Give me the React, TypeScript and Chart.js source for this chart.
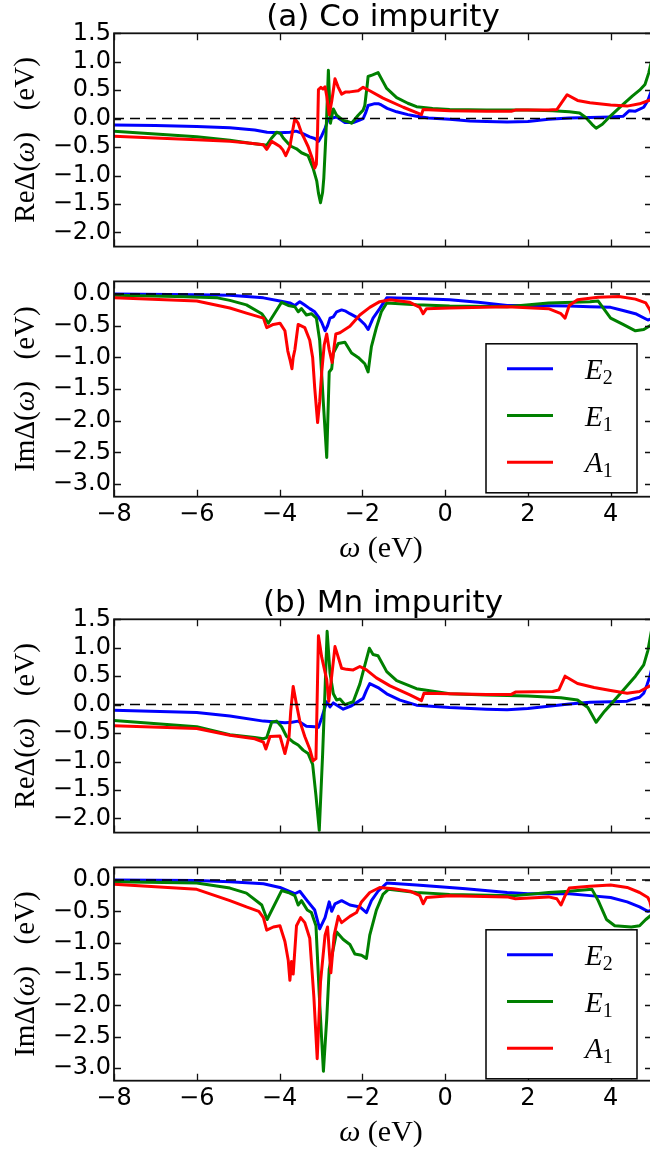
import React, { useEffect, useRef } from 'react';
import { Chart, registerables } from 'chart.js';

Chart.register(...registerables);

// ---------- axes ----------
const X_RANGE = [-8, 5];
const X_TICKS = [-8, -6, -4, -2, 0, 2, 4];
const RE_RANGE = [-2.25, 1.5];
const RE_TICKS = [-2.0, -1.5, -1.0, -0.5, 0.0, 0.5, 1.0, 1.5];
const IM_RANGE = [-3.2, 0.2];
const IM_TICKS = [-3.0, -2.5, -2.0, -1.5, -1.0, -0.5, 0.0];
const ZERO_LEVEL = 0;

const SERIES_LABELS = ['E₂', 'E₁', 'A₁'];
const SERIES_COLORS = ['#0000ff', '#008000', '#ff0000'];

// ---------- (a) Co impurity, Re ----------
const coReE2X = [-8, -7, -6, -5.2, -4.6, -4.3, -4.0, -3.75, -3.6, -3.45, -3.27, -3.15, -3.06, -2.98, -2.9, -2.82, -2.72, -2.62, -2.5, -2.42, -2.22, -2.05, -1.98, -1.92, -1.86, -1.72, -1.6, -1.54, -1.4, -1.17, -0.9, -0.69, -0.4, 0.11, 0.6, 1.0, 1.5, 2.0, 2.5, 3.0, 3.5, 4.0, 4.3, 4.45, 4.6, 4.8, 4.9, 5.0];
const coReE2Y = [-0.11, -0.12, -0.14, -0.16, -0.2, -0.24, -0.25, -0.24, -0.22, -0.26, -0.32, -0.35, -0.4, -0.3, -0.17, 0.0, 0.01, 0.03, -0.03, -0.07, -0.07, -0.02, 0.0, 0.1, 0.23, 0.26, 0.26, 0.24, 0.18, 0.12, 0.07, 0.04, 0.01, -0.01, -0.04, -0.05, -0.06, -0.05, -0.01, 0.01, 0.02, 0.03, 0.04, 0.14, 0.13, 0.2, 0.32, 0.52];

const coReE1X = [-8, -7, -6, -5.2, -4.75, -4.5, -4.31, -4.2, -4.07, -3.98, -3.91, -3.8, -3.71, -3.59, -3.47, -3.31, -3.19, -3.1, -3.06, -3.01, -2.96, -2.93, -2.88, -2.86, -2.82, -2.79, -2.77, -2.7, -2.62, -2.46, -2.32, -2.26, -2.1, -1.98, -1.94, -1.88, -1.86, -1.75, -1.62, -1.5, -1.41, -1.17, -0.9, -0.69, -0.3, 0.11, 1.0, 2.0, 2.6, 3.0, 3.25, 3.4, 3.55, 3.65, 3.8, 4.0, 4.3, 4.53, 4.7, 4.83, 4.92, 5.0];
const coReE1Y = [-0.22, -0.27, -0.32, -0.38, -0.43, -0.45, -0.47, -0.35, -0.24, -0.26, -0.34, -0.43, -0.49, -0.53, -0.6, -0.65, -0.87, -1.1, -1.31, -1.48, -1.3, -1.04, -0.3, 0.06, 0.85, 0.3, -0.08, 0.17, 0.06, -0.03, -0.06, -0.08, 0.06, 0.15, 0.23, 0.6, 0.74, 0.77, 0.81, 0.65, 0.53, 0.37, 0.27, 0.21, 0.18, 0.16, 0.15, 0.15, 0.14, 0.12, 0.1, 0.02, -0.1, -0.17, -0.1, 0.05, 0.25, 0.4, 0.5, 0.6, 0.8, 1.05];

const coReA1X = [-8, -7, -6, -5.2, -4.75, -4.39, -4.31, -4.19, -4.1, -3.99, -3.92, -3.85, -3.75, -3.68, -3.63, -3.55, -3.47, -3.4, -3.31, -3.2, -3.15, -3.11, -3.08, -3.06, -3.0, -2.95, -2.9, -2.86, -2.8, -2.74, -2.7, -2.66, -2.58, -2.5, -2.4, -2.3, -2.1, -1.98, -1.82, -1.5, -1.01, -0.57, -0.53, 0.11, 1.0, 1.6, 1.7, 2.5, 2.7, 2.95, 3.2, 3.5, 4.0, 4.4, 4.7, 5.0];
const coReA1Y = [-0.31, -0.34, -0.37, -0.4, -0.43, -0.46, -0.54, -0.4, -0.44, -0.49, -0.55, -0.65, -0.49, -0.2, 0.0, -0.08, -0.25, -0.35, -0.49, -0.72, -0.87, -0.8, -0.2, 0.51, 0.55, 0.52, 0.56, 0.4, 0.07, 0.3, 0.5, 0.7, 0.55, 0.43, 0.47, 0.47, 0.49, 0.55, 0.49, 0.36, 0.2, 0.07, 0.16, 0.14, 0.13, 0.13, 0.15, 0.15, 0.16, 0.42, 0.32, 0.28, 0.24, 0.22, 0.26, 0.34];

// ---------- (a) Co impurity, Im ----------
const coImE2X = [-8, -6, -5.2, -4.39, -3.99, -3.75, -3.63, -3.51, -3.4, -3.27, -3.15, -3.06, -2.98, -2.9, -2.84, -2.78, -2.7, -2.62, -2.5, -2.4, -2.3, -2.1, -1.94, -1.86, -1.74, -1.58, -1.41, -0.69, 0.11, 0.8, 1.5, 2.0, 3.0, 3.5, 4.0, 4.3, 4.6, 4.9, 5.0];
const coImE2Y = [0.0, -0.01, -0.02, -0.06, -0.11, -0.14, -0.18, -0.12, -0.17, -0.23, -0.28, -0.36, -0.45, -0.58, -0.5, -0.38, -0.36, -0.28, -0.25, -0.27, -0.31, -0.38, -0.48, -0.56, -0.38, -0.23, -0.06, -0.07, -0.09, -0.13, -0.18, -0.18, -0.19, -0.2, -0.21, -0.26, -0.31, -0.41, -0.39];

const coImE1X = [-8, -6.5, -5.5, -5.2, -4.8, -4.43, -4.27, -3.95, -3.79, -3.63, -3.55, -3.47, -3.35, -3.23, -3.11, -3.03, -2.94, -2.86, -2.8, -2.74, -2.7, -2.58, -2.42, -2.26, -2.1, -1.94, -1.86, -1.78, -1.66, -1.54, -1.41, -0.69, 0.11, 1.5, 2.5, 3.5, 3.7, 4.0, 4.3, 4.6, 4.8, 5.0];
const coImE1Y = [-0.02, -0.04, -0.06, -0.1, -0.17, -0.31, -0.46, -0.13, -0.18, -0.2, -0.28, -0.23, -0.33, -0.31, -0.38, -0.73, -1.73, -2.58, -1.23, -1.18, -0.93, -0.78, -0.76, -0.93, -1.0, -1.1, -1.23, -0.83, -0.53, -0.28, -0.14, -0.17, -0.19, -0.2, -0.14, -0.12, -0.11, -0.38, -0.48, -0.58, -0.56, -0.48];

const coImA1X = [-8, -6, -5.2, -4.8, -4.39, -4.31, -4.15, -3.99, -3.87, -3.8, -3.75, -3.7, -3.67, -3.63, -3.55, -3.39, -3.27, -3.2, -3.15, -3.08, -3.03, -2.98, -2.92, -2.86, -2.8, -2.73, -2.64, -2.54, -2.3, -2.06, -1.82, -1.58, -1.33, -0.85, -0.61, -0.53, -0.45, 0.11, 1.5, 2.5, 2.8, 2.9, 3.0, 3.2, 3.7, 4.2, 4.6, 4.85, 4.95, 5.0];
const coImA1Y = [-0.06, -0.11, -0.22, -0.3, -0.38, -0.53, -0.48, -0.46, -0.58, -0.9, -1.03, -1.18, -1.0, -0.88, -0.48, -0.53, -0.73, -1.0, -1.48, -2.03, -1.7, -1.23, -0.8, -0.63, -0.88, -1.08, -0.63, -0.61, -0.51, -0.33, -0.21, -0.12, -0.09, -0.13, -0.21, -0.31, -0.23, -0.22, -0.2, -0.23, -0.31, -0.38, -0.18, -0.09, -0.05, -0.04, -0.08, -0.14, -0.25, -0.35];

// ---------- (b) Mn impurity, Re ----------
const mnReE2X = [-8, -6, -5.2, -4.39, -4.15, -3.87, -3.7, -3.55, -3.35, -3.15, -3.06, -2.98, -2.86, -2.78, -2.7, -2.46, -2.26, -1.98, -1.9, -1.82, -1.62, -1.41, -1.09, -0.69, 0.11, 1.0, 1.5, 2.0, 2.5, 3.0, 3.5, 4.0, 4.4, 4.55, 4.7, 4.8, 4.88, 4.95, 5.0];
const mnReE2Y = [-0.1, -0.14, -0.2, -0.29, -0.3, -0.32, -0.31, -0.29, -0.38, -0.39, -0.4, -0.23, 0.05, -0.04, 0.03, -0.08, -0.02, 0.11, 0.25, 0.37, 0.3, 0.19, 0.08, -0.01, -0.05, -0.08, -0.09, -0.07, -0.03, 0.01, 0.04, 0.05, 0.06, 0.1, 0.13, 0.2, 0.35, 0.5, 0.65];

const mnReE1X = [-8, -6, -5.2, -4.6, -4.39, -4.31, -4.19, -4.07, -3.95, -3.83, -3.67, -3.55, -3.43, -3.31, -3.2, -3.12, -3.04, -2.96, -2.9, -2.85, -2.78, -2.7, -2.62, -2.54, -2.42, -2.22, -2.06, -1.94, -1.83, -1.74, -1.62, -1.41, -1.17, -0.69, 0.11, 1.0, 2.0, 2.8, 3.2, 3.45, 3.65, 3.85, 4.0, 4.3, 4.6, 4.8, 4.9, 5.0];
const mnReE1Y = [-0.28, -0.39, -0.53, -0.58, -0.6, -0.58, -0.31, -0.29, -0.39, -0.56, -0.66, -0.71, -0.8, -0.86, -1.05, -1.6, -2.21, -0.89, 0.27, 1.29, 0.55, 0.19, 0.08, 0.1, 0.0, 0.05, 0.36, 0.69, 0.99, 0.88, 0.86, 0.58, 0.42, 0.28, 0.19, 0.17, 0.15, 0.12, 0.08, -0.05, -0.31, -0.12, 0.0, 0.25, 0.5, 0.7, 0.95, 1.35];

const mnReA1X = [-8, -6, -5.2, -4.6, -4.39, -4.33, -4.23, -3.99, -3.87, -3.77, -3.73, -3.67, -3.6, -3.51, -3.39, -3.27, -3.19, -3.12, -3.06, -2.98, -2.86, -2.81, -2.74, -2.66, -2.58, -2.5, -2.38, -2.22, -2.06, -1.9, -1.66, -1.33, -0.85, -0.57, -0.51, 0.11, 1.0, 1.6, 1.7, 2.6, 2.75, 2.9, 3.2, 3.6, 4.0, 4.4, 4.7, 5.0];
const mnReA1Y = [-0.37, -0.42, -0.54, -0.6, -0.66, -0.78, -0.56, -0.55, -0.86, -0.56, -0.12, 0.32, 0.04, -0.29, -0.56, -0.78, -0.99, -0.95, 1.21, 0.83, 0.44, 0.06, 0.5, 1.02, 0.83, 0.64, 0.62, 0.61, 0.67, 0.61, 0.47, 0.33, 0.17, 0.07, 0.2, 0.19, 0.18, 0.18, 0.22, 0.23, 0.26, 0.5, 0.37, 0.3, 0.25, 0.2, 0.23, 0.35];

// ---------- (b) Mn impurity, Im ----------
const mnImE2X = [-8, -6, -5.2, -4.39, -3.99, -3.63, -3.51, -3.31, -3.15, -3.03, -2.9, -2.8, -2.74, -2.66, -2.5, -2.3, -2.06, -1.9, -1.78, -1.62, -1.41, -0.69, 0.11, 0.5, 1.5, 2.0, 3.0, 3.5, 4.0, 4.4, 4.7, 4.9, 5.0];
const mnImE2Y = [0.0, -0.01, -0.03, -0.06, -0.12, -0.22, -0.18, -0.35, -0.48, -0.78, -0.6, -0.35, -0.5, -0.38, -0.33, -0.4, -0.43, -0.52, -0.33, -0.18, -0.05, -0.08, -0.12, -0.14, -0.2, -0.22, -0.22, -0.25, -0.28, -0.35, -0.43, -0.5, -0.48];

const mnImE1X = [-8, -6, -5.2, -4.8, -4.43, -4.3, -3.95, -3.79, -3.63, -3.55, -3.47, -3.33, -3.23, -3.12, -3.04, -2.94, -2.86, -2.8, -2.74, -2.62, -2.46, -2.3, -2.18, -2.02, -1.9, -1.82, -1.66, -1.5, -1.37, -0.69, 0.11, 1.7, 2.5, 3.0, 3.55, 3.7, 3.9, 4.1, 4.5, 4.7, 4.85, 5.0];
const mnImE1Y = [-0.03, -0.05, -0.13, -0.21, -0.4, -0.63, -0.17, -0.2, -0.25, -0.4, -0.33, -0.48, -0.52, -0.73, -1.83, -3.05, -2.22, -1.42, -1.22, -0.83, -0.95, -1.03, -1.18, -1.2, -1.25, -0.88, -0.48, -0.23, -0.15, -0.2, -0.23, -0.25, -0.2, -0.18, -0.15, -0.33, -0.63, -0.73, -0.75, -0.73, -0.63, -0.55];

const mnImA1X = [-8, -6, -5.2, -4.8, -4.5, -4.39, -4.31, -4.15, -3.99, -3.87, -3.79, -3.75, -3.71, -3.67, -3.59, -3.49, -3.39, -3.27, -3.17, -3.09, -3.01, -2.9, -2.84, -2.76, -2.68, -2.58, -2.5, -2.3, -2.14, -2.02, -1.82, -1.58, -1.25, -0.85, -0.61, -0.53, -0.45, 0.11, 1.5, 1.7, 2.5, 2.7, 2.8, 2.9, 3.0, 3.5, 4.0, 4.4, 4.7, 4.9, 4.95, 5.0];
const mnImA1Y = [-0.07, -0.15, -0.33, -0.43, -0.5, -0.6, -0.8, -0.75, -0.73, -0.98, -1.28, -1.6, -1.3, -1.5, -0.73, -0.6, -0.68, -0.93, -1.87, -2.85, -1.63, -0.88, -0.75, -1.48, -0.88, -0.58, -0.68, -0.58, -0.52, -0.35, -0.2, -0.12, -0.14, -0.18, -0.25, -0.38, -0.28, -0.25, -0.27, -0.3, -0.27, -0.3, -0.4, -0.25, -0.13, -0.1, -0.08, -0.12, -0.2, -0.28, -0.35, -0.5];

// ---------- helpers ----------
const fmtNum = (v: number, digits: number) => {
  const s = Math.abs(v).toFixed(digits);
  return v < -1e-9 ? '\u2212' + s : s;
};

const SANS = '"DejaVu Sans", sans-serif';
const SERIF = '"Liberation Serif", "DejaVu Serif", serif';

type Seg = { t: string; italic?: boolean };

function drawSegs(ctx: CanvasRenderingContext2D, segs: Seg[], cx: number, cy: number, size: number) {
  const fonts = segs.map((s) => `${s.italic ? 'italic ' : ''}${size}px ${SERIF}`);
  let total = 0;
  const widths = segs.map((s, i) => {
    ctx.font = fonts[i];
    const w = ctx.measureText(s.t).width;
    total += w;
    return w;
  });
  let x = cx - total / 2;
  ctx.textBaseline = 'middle';
  ctx.textAlign = 'left';
  segs.forEach((s, i) => {
    ctx.font = fonts[i];
    ctx.fillText(s.t, x, cy);
    x += widths[i];
  });
}

const SUB_MAP: Record<string, string> = { '₀': '0', '₁': '1', '₂': '2', '₃': '3' };

const framePlugin = {
  id: 'frame',
  afterDraw(chart: any, _args: any, opts: any) {
    const { ctx, chartArea } = chart;
    const { left, right, top, bottom } = chartArea;
    const xs = chart.scales.x;
    const ys = chart.scales.y;
    ctx.save();
    // frame
    ctx.strokeStyle = '#111';
    ctx.lineWidth = 1.8;
    ctx.strokeRect(left, top, right - left, bottom - top);
    // inward ticks on all four sides
    const L = 7;
    ctx.lineWidth = 1.3;
    ctx.beginPath();
    X_TICKS.forEach((v) => {
      const px = Math.round(xs.getPixelForValue(v)) + 0.5;
      ctx.moveTo(px, bottom);
      ctx.lineTo(px, bottom - L);
      ctx.moveTo(px, top);
      ctx.lineTo(px, top + L);
    });
    (opts.yTicks as number[]).forEach((v) => {
      const py = Math.round(ys.getPixelForValue(v)) + 0.5;
      ctx.moveTo(left, py);
      ctx.lineTo(left + L, py);
      ctx.moveTo(right, py);
      ctx.lineTo(right - L, py);
    });
    ctx.stroke();

    ctx.fillStyle = '#000';
    // y-axis title
    ctx.save();
    ctx.translate(26, (top + bottom) / 2);
    ctx.rotate(-Math.PI / 2);
    drawSegs(ctx, [{ t: opts.yPrefix + 'Δ(' }, { t: 'ω', italic: true }, { t: ')   (eV)' }], 0, 0, 29);
    ctx.restore();

    // panel title
    if (opts.title) {
      ctx.font = `31px ${SANS}`;
      ctx.textAlign = 'center';
      ctx.textBaseline = 'middle';
      ctx.fillText(opts.title, (left + right) / 2, top - 15);
    }
    // x-axis title
    if (opts.xTitle) {
      drawSegs(ctx, [{ t: 'ω', italic: true }, { t: ' (eV)' }], (left + right) / 2 - 2, bottom + 52, 30);
    }
    // legend
    if (opts.legend) {
      const bx = 486, bw = 151;
      const by = top + 62.4, bh = 149;
      ctx.fillStyle = '#fff';
      ctx.fillRect(bx, by, bw, bh);
      ctx.strokeStyle = '#000';
      ctx.lineWidth = 1.5;
      ctx.strokeRect(bx, by, bw, bh);
      const items = chart.data.datasets.filter((d: any) => d.legendIndex !== undefined)
        .sort((a: any, b: any) => a.legendIndex - b.legendIndex);
      items.forEach((d: any, i: number) => {
        const yy = by + 25 + i * 46.7;
        ctx.strokeStyle = d.borderColor;
        ctx.lineWidth = 3;
        ctx.beginPath();
        ctx.moveTo(507, yy);
        ctx.lineTo(553, yy);
        ctx.stroke();
        const label: string = d.label;
        const base = label[0];
        const sub = label.slice(1).split('').map((c) => SUB_MAP[c] ?? c).join('');
        ctx.fillStyle = '#000';
        ctx.textAlign = 'left';
        ctx.textBaseline = 'alphabetic';
        ctx.font = `italic 29px ${SERIF}`;
        ctx.fillText(base, 585, yy + 10);
        const w = ctx.measureText(base).width;
        ctx.font = `20px ${SERIF}`;
        ctx.fillText(sub, 585 + w, yy + 15);
      });
    }
    ctx.restore();
  },
};

type PanelCfg = {
  top: number;
  height: number;
  padTop: number;
  padBottom: number;
  range: number[];
  yTicks: number[];
  yPrefix: string;
  title?: string;
  showX: boolean;
  xAxisHeight?: number;
  legend: boolean;
  xs: number[][];
  ys: number[][];
};

const PANELS: PanelCfg[] = [
  { top: 0, height: 264, padTop: 33.3, padBottom: 4, range: RE_RANGE, yTicks: RE_TICKS, yPrefix: 'Re', title: '(a) Co impurity', showX: false, legend: false, xs: [coReE2X, coReE1X, coReA1X], ys: [coReE2Y, coReE1Y, coReA1Y] },
  { top: 264, height: 322, padTop: 5.3, padBottom: 0, range: IM_RANGE, yTicks: IM_TICKS, yPrefix: 'Im', showX: true, xAxisHeight: 89.3, legend: true, xs: [coImE2X, coImE1X, coImA1X], ys: [coImE2Y, coImE1Y, coImA1Y] },
  { top: 586, height: 264, padTop: 33.3, padBottom: 4, range: RE_RANGE, yTicks: RE_TICKS, yPrefix: 'Re', title: '(b) Mn impurity', showX: false, legend: false, xs: [mnReE2X, mnReE1X, mnReA1X], ys: [mnReE2Y, mnReE1Y, mnReA1Y] },
  { top: 850, height: 302, padTop: 5, padBottom: 0, range: IM_RANGE, yTicks: IM_TICKS, yPrefix: 'Im', showX: true, xAxisHeight: 71.3, legend: true, xs: [mnImE2X, mnImE1X, mnImA1X], ys: [mnImE2Y, mnImE1Y, mnImA1Y] },
];

const CANVAS_W = 656;

function Panel({ cfg }: { cfg: PanelCfg }) {
  const ref = useRef<HTMLCanvasElement | null>(null);
  useEffect(() => {
    if (!ref.current) return;
    const series = cfg.xs.map((xArr, si) => ({
      label: SERIES_LABELS[si],
      legendIndex: si,
      data: xArr.map((x, i) => ({ x, y: cfg.ys[si][i] })),
      borderColor: SERIES_COLORS[si],
      backgroundColor: SERIES_COLORS[si],
      borderWidth: 3,
      pointRadius: 0,
      tension: 0,
      fill: false,
      borderJoinStyle: 'round' as const,
      borderCapStyle: 'round' as const,
      order: 3 - si,
    }));
    const zero = {
      label: 'zero',
      data: X_RANGE.map((x) => ({ x, y: ZERO_LEVEL })),
      borderColor: '#000',
      borderWidth: 1.5,
      borderDash: [10, 6],
      pointRadius: 0,
      fill: false,
      order: 0,
    };
    const chart = new Chart(ref.current, {
      type: 'line',
      data: { datasets: [...series, zero] as any },
      options: {
        animation: false,
        responsive: false,
        maintainAspectRatio: false,
        devicePixelRatio: 1,
        events: [],
        layout: { padding: { top: cfg.padTop, bottom: cfg.padBottom, left: 0, right: 4 } },
        plugins: {
          legend: { display: false },
          tooltip: { enabled: false },
          title: { display: false },
          frame: { yTicks: cfg.yTicks, yPrefix: cfg.yPrefix, title: cfg.title, xTitle: cfg.showX, legend: cfg.legend },
        } as any,
        scales: {
          x: {
            type: 'linear',
            min: X_RANGE[0],
            max: X_RANGE[1],
            display: cfg.showX,
            afterBuildTicks: (s: any) => { s.ticks = X_TICKS.map((v) => ({ value: v })); },
            afterFit: (s: any) => { if (cfg.xAxisHeight) s.height = cfg.xAxisHeight; },
            grid: { display: false, drawTicks: false },
            border: { display: false },
            ticks: {
              color: '#000',
              font: { family: SANS, size: 24 },
              padding: 4,
              maxRotation: 0,
              autoSkip: false,
              callback: (v: any) => fmtNum(Number(v), 0),
            },
          },
          y: {
            type: 'linear',
            min: cfg.range[0],
            max: cfg.range[1],
            afterBuildTicks: (s: any) => { s.ticks = cfg.yTicks.map((v) => ({ value: v })); },
            afterFit: (s: any) => { s.width = 114; },
            grid: { display: false, drawTicks: false },
            border: { display: false },
            ticks: {
              color: '#000',
              font: { family: SANS, size: 24 },
              padding: 3,
              autoSkip: false,
              callback: (v: any) => fmtNum(Number(v), 1),
            },
          },
        },
      },
      plugins: [framePlugin as any],
    });
    return () => chart.destroy();
  }, []);
  return (
    <canvas
      ref={ref}
      width={CANVAS_W}
      height={cfg.height}
      style={{ position: 'absolute', left: 0, top: cfg.top, display: 'block' }}
    />
  );
}

export default function App() {
  return (
    <div style={{ position: 'absolute', left: 0, top: 0, width: 650, height: 1152, overflow: 'hidden', background: '#fff' }}>
      {PANELS.map((p, i) => (
        <Panel key={i} cfg={p} />
      ))}
    </div>
  );
}
